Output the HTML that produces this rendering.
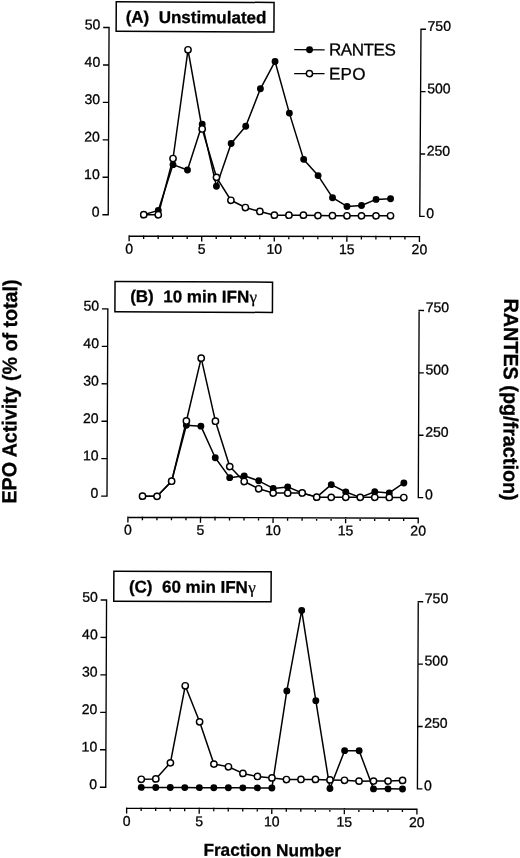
<!DOCTYPE html>
<html><head><meta charset="utf-8"><title>Figure</title>
<style>
html,body{margin:0;padding:0;background:#fff;}
body{width:520px;height:858px;overflow:hidden;}
svg{display:block;filter:grayscale(1);}
text{font-family:"Liberation Sans",sans-serif;fill:#000;}
.t{font-size:14px;stroke:#000;stroke-width:0.3px;}
.b{font-weight:bold;stroke:#000;stroke-width:0.3px;}
.ax{stroke:#000;stroke-width:1.35;fill:none;stroke-linecap:square;}
.ln{stroke:#000;stroke-width:1.50;fill:none;stroke-linejoin:round;}
.of{fill:#fff;stroke:#000;stroke-width:1.45;}
.ff{fill:#000;stroke:none;}
</style></head><body>
<svg width="520" height="858" viewBox="0 0 520 858">
<rect x="0" y="0" width="520" height="858" fill="#fff"/>
<g transform="rotate(0.250 260 429)">
<g id="panelA">
<path class="ax" d="M107.3 28.2 V215.4 M107.3 28.2 H102.1 M107.3 65.64 H102.1 M107.3 103.08 H102.1 M107.3 140.52 H102.1 M107.3 177.96 H102.1 M107.3 215.4 H102.1"/>
<text class="t" text-anchor="end" x="98.6" y="29.95">50</text>
<text class="t" text-anchor="end" x="98.6" y="67.39">40</text>
<text class="t" text-anchor="end" x="98.6" y="104.83">30</text>
<text class="t" text-anchor="end" x="98.6" y="142.27">20</text>
<text class="t" text-anchor="end" x="98.6" y="179.71">10</text>
<text class="t" text-anchor="end" x="98.6" y="217.15">0</text>
<path class="ax" d="M419.25 28.5 L418.85 215.7 M419.25 28.5 H423.55 M419.12 90.9 H423.42 M418.98 153.3 H423.28 M418.85 215.7 H423.15"/>
<text class="t" x="425.85" y="30.05">750</text>
<text class="t" x="425.72" y="92.45">500</text>
<text class="t" x="425.58" y="154.85">250</text>
<text class="t" x="425.45" y="217.25">0</text>
<g transform="rotate(-0.12 128.3 236.55)"><path class="ax" d="M128.3 236.55 H418.6 M128.3 236.55 v4.6 M142.81 236.55 v2.2 M157.33 236.55 v2.2 M171.85 236.55 v2.2 M186.36 236.55 v2.2 M200.88 236.55 v4.6 M215.39 236.55 v2.2 M229.91 236.55 v2.2 M244.42 236.55 v2.2 M258.94 236.55 v2.2 M273.45 236.55 v4.6 M287.97 236.55 v2.2 M302.48 236.55 v2.2 M317 236.55 v2.2 M331.51 236.55 v2.2 M346.02 236.55 v4.6 M360.54 236.55 v2.2 M375.06 236.55 v2.2 M389.57 236.55 v2.2 M404.08 236.55 v2.2 M418.6 236.55 v4.6"/>
<text class="t" text-anchor="middle" x="128.3" y="254.05">0</text>
<text class="t" text-anchor="middle" x="200.88" y="254.05">5</text>
<text class="t" text-anchor="middle" x="273.45" y="254.05">10</text>
<text class="t" text-anchor="middle" x="346.02" y="254.05">15</text>
<text class="t" text-anchor="middle" x="418.6" y="254.05">20</text>
</g>
<rect x="114.4" y="2.4" width="157.8" height="29.6" fill="#fff" stroke="#000" stroke-width="1.5"/>
<text class="b" style="font-size:17px" x="123.9" y="23.4">(A)&#160;&#160;Unstimulated</text>
<polyline class="ln" points="142.81,215.2 157.33,210.85 171.85,165 186.36,170.3 200.88,124.45 215.39,186.5 229.91,143.6 244.42,126.3 258.94,88.8 273.45,61.4 287.97,113 302.48,159.2 317,175.35 331.51,197.4 346.03,206.1 360.54,205 375.06,198.9 389.57,198.2"/>
<circle class="ff" cx="142.81" cy="215.2" r="3.45"/><circle class="ff" cx="157.33" cy="210.85" r="3.45"/><circle class="ff" cx="171.85" cy="165" r="3.45"/><circle class="ff" cx="186.36" cy="170.3" r="3.45"/><circle class="ff" cx="200.88" cy="124.45" r="3.45"/><circle class="ff" cx="215.39" cy="186.5" r="3.45"/><circle class="ff" cx="229.91" cy="143.6" r="3.45"/><circle class="ff" cx="244.42" cy="126.3" r="3.45"/><circle class="ff" cx="258.94" cy="88.8" r="3.45"/><circle class="ff" cx="273.45" cy="61.4" r="3.45"/><circle class="ff" cx="287.97" cy="113" r="3.45"/><circle class="ff" cx="302.48" cy="159.2" r="3.45"/><circle class="ff" cx="317" cy="175.35" r="3.45"/><circle class="ff" cx="331.51" cy="197.4" r="3.45"/><circle class="ff" cx="346.03" cy="206.1" r="3.45"/><circle class="ff" cx="360.54" cy="205" r="3.45"/><circle class="ff" cx="375.06" cy="198.9" r="3.45"/><circle class="ff" cx="389.57" cy="198.2" r="3.45"/>
<polyline class="ln" points="142.81,215.2 157.33,215.2 171.85,158.9 186.36,50.1 200.88,129.25 215.39,177.5 229.91,200.4 244.42,207.6 258.94,211.5 273.45,215.1 287.97,215.1 302.48,215 317,215.3 331.51,215.4 346.03,215.4 360.54,215.4 375.06,215.3 389.57,215.2"/>
<circle class="of" cx="142.81" cy="215.2" r="3.15"/><circle class="of" cx="157.33" cy="215.2" r="3.15"/><circle class="of" cx="171.85" cy="158.9" r="3.15"/><circle class="of" cx="186.36" cy="50.1" r="3.15"/><circle class="of" cx="200.88" cy="129.25" r="3.15"/><circle class="of" cx="215.39" cy="177.5" r="3.15"/><circle class="of" cx="229.91" cy="200.4" r="3.15"/><circle class="of" cx="244.42" cy="207.6" r="3.15"/><circle class="of" cx="258.94" cy="211.5" r="3.15"/><circle class="of" cx="273.45" cy="215.1" r="3.15"/><circle class="of" cx="287.97" cy="215.1" r="3.15"/><circle class="of" cx="302.48" cy="215" r="3.15"/><circle class="of" cx="317" cy="215.3" r="3.15"/><circle class="of" cx="331.51" cy="215.4" r="3.15"/><circle class="of" cx="346.03" cy="215.4" r="3.15"/><circle class="of" cx="360.54" cy="215.4" r="3.15"/><circle class="of" cx="375.06" cy="215.3" r="3.15"/><circle class="of" cx="389.57" cy="215.2" r="3.15"/>
</g>
<g id="panelB">
<path class="ax" d="M107.3 309.6 V496.8 M107.3 309.6 H102.1 M107.3 347.04 H102.1 M107.3 384.48 H102.1 M107.3 421.92 H102.1 M107.3 459.36 H102.1 M107.3 496.8 H102.1"/>
<text class="t" text-anchor="end" x="98.6" y="311.35">50</text>
<text class="t" text-anchor="end" x="98.6" y="348.79">40</text>
<text class="t" text-anchor="end" x="98.6" y="386.23">30</text>
<text class="t" text-anchor="end" x="98.6" y="423.67">20</text>
<text class="t" text-anchor="end" x="98.6" y="461.11">10</text>
<text class="t" text-anchor="end" x="98.6" y="498.55">0</text>
<path class="ax" d="M418.6 309.75 L418.6 496.95 M418.6 309.75 H422.9 M418.6 372.15 H422.9 M418.6 434.55 H422.9 M418.6 496.95 H422.9"/>
<text class="t" x="425.2" y="311.25">750</text>
<text class="t" x="425.2" y="373.65">500</text>
<text class="t" x="425.2" y="436.05">250</text>
<text class="t" x="425.2" y="498.45">0</text>
<g transform="rotate(-0.04 128.3 517.8)"><path class="ax" d="M128.3 517.8 H418.6 M128.3 517.8 v4.6 M142.81 517.8 v2.2 M157.33 517.8 v2.2 M171.85 517.8 v2.2 M186.36 517.8 v2.2 M200.88 517.8 v4.6 M215.39 517.8 v2.2 M229.91 517.8 v2.2 M244.42 517.8 v2.2 M258.94 517.8 v2.2 M273.45 517.8 v4.6 M287.97 517.8 v2.2 M302.48 517.8 v2.2 M317 517.8 v2.2 M331.51 517.8 v2.2 M346.02 517.8 v4.6 M360.54 517.8 v2.2 M375.06 517.8 v2.2 M389.57 517.8 v2.2 M404.08 517.8 v2.2 M418.6 517.8 v4.6"/>
<text class="t" text-anchor="middle" x="128.3" y="535">0</text>
<text class="t" text-anchor="middle" x="200.88" y="535">5</text>
<text class="t" text-anchor="middle" x="273.45" y="535">10</text>
<text class="t" text-anchor="middle" x="346.02" y="535">15</text>
<text class="t" text-anchor="middle" x="418.6" y="535">20</text>
</g>
<rect x="114.4" y="282.1" width="157.5" height="30.3" fill="#fff" stroke="#000" stroke-width="1.5"/>
<text class="b" style="font-size:17px" x="129.6" y="302.6">(B)&#160;&#160;10 min IFN<tspan style="font-family:'Liberation Serif',serif;font-weight:normal;font-size:17px;stroke-width:0.25px" dx="0.3">&#947;</tspan></text>
<polyline class="ln" points="142.81,496.7 157.33,496.75 171.85,481.6 186.36,425.6 200.88,426.4 215.39,458 229.91,477.8 244.42,475.9 258.94,480.8 273.45,488.4 287.97,486.8 302.48,492.8 317,496.9 331.51,484.3 346.03,491.6 360.54,496.9 375.06,491.3 389.57,492.4 404.09,482.3"/>
<circle class="ff" cx="142.81" cy="496.7" r="3.45"/><circle class="ff" cx="157.33" cy="496.75" r="3.45"/><circle class="ff" cx="171.85" cy="481.6" r="3.45"/><circle class="ff" cx="186.36" cy="425.6" r="3.45"/><circle class="ff" cx="200.88" cy="426.4" r="3.45"/><circle class="ff" cx="215.39" cy="458" r="3.45"/><circle class="ff" cx="229.91" cy="477.8" r="3.45"/><circle class="ff" cx="244.42" cy="475.9" r="3.45"/><circle class="ff" cx="258.94" cy="480.8" r="3.45"/><circle class="ff" cx="273.45" cy="488.4" r="3.45"/><circle class="ff" cx="287.97" cy="486.8" r="3.45"/><circle class="ff" cx="302.48" cy="492.8" r="3.45"/><circle class="ff" cx="317" cy="496.9" r="3.45"/><circle class="ff" cx="331.51" cy="484.3" r="3.45"/><circle class="ff" cx="346.03" cy="491.6" r="3.45"/><circle class="ff" cx="360.54" cy="496.9" r="3.45"/><circle class="ff" cx="375.06" cy="491.3" r="3.45"/><circle class="ff" cx="389.57" cy="492.4" r="3.45"/><circle class="ff" cx="404.09" cy="482.3" r="3.45"/>
<polyline class="ln" points="142.81,496.7 157.33,496.75 171.85,481.6 186.36,421.3 200.88,358.4 215.39,421.4 229.91,466.7 244.42,481.6 258.94,488.8 273.45,493 287.97,493 302.48,492.8 317,496.9 331.51,497 346.03,496.9 360.54,496.9 375.06,496.8 389.57,496.9 404.09,496.9"/>
<circle class="of" cx="142.81" cy="496.7" r="3.15"/><circle class="of" cx="157.33" cy="496.75" r="3.15"/><circle class="of" cx="171.85" cy="481.6" r="3.15"/><circle class="of" cx="186.36" cy="421.3" r="3.15"/><circle class="of" cx="200.88" cy="358.4" r="3.15"/><circle class="of" cx="215.39" cy="421.4" r="3.15"/><circle class="of" cx="229.91" cy="466.7" r="3.15"/><circle class="of" cx="244.42" cy="481.6" r="3.15"/><circle class="of" cx="258.94" cy="488.8" r="3.15"/><circle class="of" cx="273.45" cy="493" r="3.15"/><circle class="of" cx="287.97" cy="493" r="3.15"/><circle class="of" cx="302.48" cy="492.8" r="3.15"/><circle class="of" cx="317" cy="496.9" r="3.15"/><circle class="of" cx="331.51" cy="497" r="3.15"/><circle class="of" cx="346.03" cy="496.9" r="3.15"/><circle class="of" cx="360.54" cy="496.9" r="3.15"/><circle class="of" cx="375.06" cy="496.8" r="3.15"/><circle class="of" cx="389.57" cy="496.9" r="3.15"/><circle class="of" cx="404.09" cy="496.9" r="3.15"/>
</g>
<g id="panelC">
<path class="ax" d="M107.3 600.7 V787.9 M107.3 600.7 H102.1 M107.3 638.14 H102.1 M107.3 675.58 H102.1 M107.3 713.02 H102.1 M107.3 750.46 H102.1 M107.3 787.9 H102.1"/>
<text class="t" text-anchor="end" x="98.6" y="602.45">50</text>
<text class="t" text-anchor="end" x="98.6" y="639.89">40</text>
<text class="t" text-anchor="end" x="98.6" y="677.33">30</text>
<text class="t" text-anchor="end" x="98.6" y="714.77">20</text>
<text class="t" text-anchor="end" x="98.6" y="752.21">10</text>
<text class="t" text-anchor="end" x="98.6" y="789.65">0</text>
<path class="ax" d="M419 601 L419 788.2 M419 601 H423.3 M419 663.4 H423.3 M419 725.8 H423.3 M419 788.2 H423.3"/>
<text class="t" x="425.6" y="602.25">750</text>
<text class="t" x="425.6" y="664.65">500</text>
<text class="t" x="425.6" y="727.05">250</text>
<text class="t" x="425.6" y="789.45">0</text>
<g transform="rotate(-0.02 128.3 808.7)"><path class="ax" d="M128.3 808.7 H418.6 M128.3 808.7 v4.6 M142.81 808.7 v2.2 M157.33 808.7 v2.2 M171.85 808.7 v2.2 M186.36 808.7 v2.2 M200.88 808.7 v4.6 M215.39 808.7 v2.2 M229.91 808.7 v2.2 M244.42 808.7 v2.2 M258.94 808.7 v2.2 M273.45 808.7 v4.6 M287.97 808.7 v2.2 M302.48 808.7 v2.2 M317 808.7 v2.2 M331.51 808.7 v2.2 M346.02 808.7 v4.6 M360.54 808.7 v2.2 M375.06 808.7 v2.2 M389.57 808.7 v2.2 M404.08 808.7 v2.2 M418.6 808.7 v4.6"/>
<text class="t" text-anchor="middle" x="128.3" y="826.35">0</text>
<text class="t" text-anchor="middle" x="200.88" y="826.35">5</text>
<text class="t" text-anchor="middle" x="273.45" y="826.35">10</text>
<text class="t" text-anchor="middle" x="346.02" y="826.35">15</text>
<text class="t" text-anchor="middle" x="418.6" y="826.35">20</text>
</g>
<rect x="114.5" y="571.8" width="157.3" height="30" fill="#fff" stroke="#000" stroke-width="1.5"/>
<text class="b" style="font-size:17px" x="129.6" y="593">(C)&#160;&#160;60 min IFN<tspan style="font-family:'Liberation Serif',serif;font-weight:normal;font-size:17px;stroke-width:0.25px" dx="0.3">&#947;</tspan></text>
<polyline class="ln" points="142.81,787.9 157.33,787.9 171.85,787.9 186.36,787.9 200.88,787.9 215.39,787.9 229.91,787.9 244.42,787.9 258.94,787.9 273.45,787.9 287.97,690.8 302.48,610.3 317,700.4 331.51,788.2 346.03,750.3 360.54,750.3 375.06,788.4 389.57,788.3 404.09,788.4"/>
<circle class="ff" cx="142.81" cy="787.9" r="3.45"/><circle class="ff" cx="157.33" cy="787.9" r="3.45"/><circle class="ff" cx="171.85" cy="787.9" r="3.45"/><circle class="ff" cx="186.36" cy="787.9" r="3.45"/><circle class="ff" cx="200.88" cy="787.9" r="3.45"/><circle class="ff" cx="215.39" cy="787.9" r="3.45"/><circle class="ff" cx="229.91" cy="787.9" r="3.45"/><circle class="ff" cx="244.42" cy="787.9" r="3.45"/><circle class="ff" cx="258.94" cy="787.9" r="3.45"/><circle class="ff" cx="273.45" cy="787.9" r="3.45"/><circle class="ff" cx="287.97" cy="690.8" r="3.45"/><circle class="ff" cx="302.48" cy="610.3" r="3.45"/><circle class="ff" cx="317" cy="700.4" r="3.45"/><circle class="ff" cx="331.51" cy="788.2" r="3.45"/><circle class="ff" cx="346.03" cy="750.3" r="3.45"/><circle class="ff" cx="360.54" cy="750.3" r="3.45"/><circle class="ff" cx="375.06" cy="788.4" r="3.45"/><circle class="ff" cx="389.57" cy="788.3" r="3.45"/><circle class="ff" cx="404.09" cy="788.4" r="3.45"/>
<polyline class="ln" points="142.81,779.8 157.33,779.35 171.85,763.2 186.36,686.1 200.88,722.1 215.39,764.3 229.91,766.9 244.42,773.5 258.94,776.5 273.45,777.85 287.97,779.4 302.48,779.3 317,779.2 331.51,779.6 346.03,779.9 360.54,780.7 375.06,780.6 389.57,780.5 404.09,779.8"/>
<circle class="of" cx="142.81" cy="779.8" r="3.15"/><circle class="of" cx="157.33" cy="779.35" r="3.15"/><circle class="of" cx="171.85" cy="763.2" r="3.15"/><circle class="of" cx="186.36" cy="686.1" r="3.15"/><circle class="of" cx="200.88" cy="722.1" r="3.15"/><circle class="of" cx="215.39" cy="764.3" r="3.15"/><circle class="of" cx="229.91" cy="766.9" r="3.15"/><circle class="of" cx="244.42" cy="773.5" r="3.15"/><circle class="of" cx="258.94" cy="776.5" r="3.15"/><circle class="of" cx="273.45" cy="777.85" r="3.15"/><circle class="of" cx="287.97" cy="779.4" r="3.15"/><circle class="of" cx="302.48" cy="779.3" r="3.15"/><circle class="of" cx="317" cy="779.2" r="3.15"/><circle class="of" cx="331.51" cy="779.6" r="3.15"/><circle class="of" cx="346.03" cy="779.9" r="3.15"/><circle class="of" cx="360.54" cy="780.7" r="3.15"/><circle class="of" cx="375.06" cy="780.6" r="3.15"/><circle class="of" cx="389.57" cy="780.5" r="3.15"/><circle class="of" cx="404.09" cy="779.8" r="3.15"/>
</g>
<g id="legend">
<path class="ln" style="stroke-width:1.25" d="M292.6 49.5 H323 M292.6 73.4 H323"/>
<circle class="ff" cx="307.9" cy="49.5" r="3.45"/>
<circle class="of" cx="307.9" cy="73.4" r="3.1"/>
<text style="font-size:17px;stroke:#000;stroke-width:0.3px;letter-spacing:-0.45px" x="327.4" y="55.0">RANTES</text>
<text style="font-size:17px;stroke:#000;stroke-width:0.3px;letter-spacing:0.3px" x="327.4" y="79.3">EPO</text>
</g>
<text class="b" style="font-size:17.2px" text-anchor="middle" x="274.06" y="856.0">Fraction Number</text>
<text class="b" style="font-size:19.65px" text-anchor="middle" transform="translate(16.54 392.56) rotate(-90) scale(1 1.04)">EPO Activity (% of total)</text>
<text class="b" style="font-size:19.8px" text-anchor="middle" transform="translate(503.57 398.5) rotate(90) scale(1 1.03)">RANTES (pg/fraction)</text>
</g>
</svg>
</body></html>
